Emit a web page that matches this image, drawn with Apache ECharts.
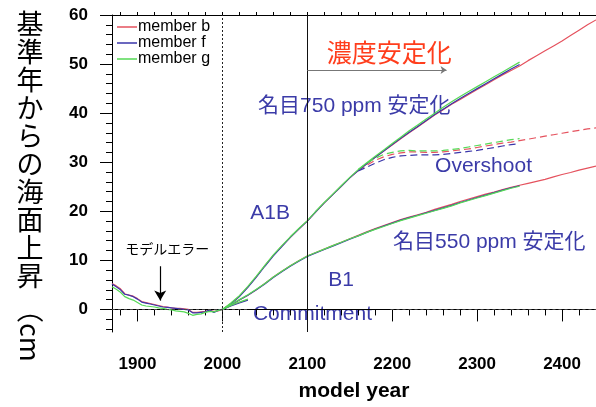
<!DOCTYPE html>
<html><head><meta charset="utf-8">
<script src="https://cdn.jsdelivr.net/npm/echarts@6/dist/echarts.min.js"></script>
<style>html,body{margin:0;padding:0;background:#fff}#c{width:596px;height:407px}</style>
</head><body><div id="c"></div>
<script>
// ---------- data ----------
const histYears = [1870,1875,1880,1885,1890,1895,1900,1905,1910,1915,1920,1925,1930,1935,1940,1945,1950,1955,1960,1965,1970,1975,1980,1985,1990,1995,2000];
const histB = [5.3,4.8,4.2,3.2,2.9,2.7,2.2,1.6,1.4,1.2,1.0,0.8,0.6,0.5,0.3,0.2,0.2,0.1,0.0,-0.6,-0.6,-0.5,-0.4,-0.2,-0.4,-0.3,0.0];
const histF = [5.2,4.6,4.0,3.1,2.9,2.6,2.1,1.5,1.3,1.1,0.9,0.7,0.5,0.4,0.3,0.2,0.1,0.0,-0.1,-0.7,-0.7,-0.6,-0.5,-0.1,-0.6,-0.2,0.0];
const histG = [4.6,4.1,3.5,2.6,2.2,1.9,1.4,0.9,0.7,0.6,0.5,0.3,0.2,0.0,-0.1,-0.3,-0.4,-0.5,-0.8,-1.2,-1.0,-0.9,-0.6,-0.4,-0.5,-0.2,0.0];

const commitYears = [2000,2010,2020,2030];
const commitB = [0.0,0.8,1.4,2.0];
const commitF = [0.0,0.7,1.3,1.9];
const commitG = [0.0,0.8,1.5,2.1];

const futureYears = [2000,2010,2020,2030,2040,2050,2060,2070,2080,2090,2100,2110,2120,2130,2140,2150,2160,2170,2180,2190,2200,2210,2220,2230,2240,2250,2260,2270,2280,2290,2300,2310,2320,2330,2340,2350,2360,2370,2380,2390,2400,2410,2420,2430,2440];
// A1B then 750 ppm stabilisation
const upperB = [0.0,1.2,2.7,4.6,6.7,8.9,11.0,12.9,14.7,16.4,18.0,19.9,21.7,23.4,25.1,26.8,28.3,29.7,31.0,32.3,33.5,34.8,36.0,37.2,38.4,39.6,40.7,41.8,42.8,43.8,44.8,45.8,46.8,47.8,48.7,49.6,50.7,51.7,52.7,53.7,54.7,55.8,56.9,58.0,59.0];
const upperF = [0.0,1.1,2.6,4.5,6.6,8.8,10.9,12.8,14.7,16.4,18.0,19.9,21.7,23.4,25.1,26.8,28.3,29.7,31.0,32.3,33.6,34.9,36.1,37.3,38.5,39.7,40.8,41.9,43.0,44.0,45.0,46.0,47.0,48.0,49.0,49.9];
const upperG = [0.0,1.3,2.8,4.7,6.8,9.0,11.1,13.0,14.8,16.5,18.1,20.0,21.8,23.5,25.2,26.9,28.5,29.9,31.2,32.5,33.8,35.1,36.4,37.6,38.8,40.0,41.2,42.3,43.4,44.4,45.4,46.4,47.4,48.4,49.4,50.4];
// B1 then 550 ppm stabilisation
const lowerB = [0.0,0.9,1.9,2.9,4.0,5.3,6.6,7.8,8.9,9.9,10.9,11.6,12.3,13.0,13.7,14.4,15.1,15.8,16.5,17.1,17.7,18.3,18.8,19.3,19.8,20.4,20.9,21.4,22.0,22.5,23.0,23.5,23.9,24.4,24.9,25.3,25.7,26.1,26.5,27.0,27.5,27.9,28.4,28.8,29.2];
const lowerF = [0.0,0.9,1.9,2.9,4.0,5.2,6.5,7.7,8.8,9.8,10.8,11.5,12.2,12.9,13.6,14.3,15.0,15.7,16.4,17.0,17.6,18.2,18.7,19.2,19.7,20.2,20.7,21.2,21.8,22.3,22.8,23.3,23.8,24.3,24.8,25.2];
const lowerG = [0.0,1.0,2.0,3.0,4.1,5.3,6.6,7.8,8.9,9.9,10.9,11.6,12.3,13.0,13.7,14.4,15.0,15.7,16.3,16.9,17.5,18.1,18.6,19.1,19.6,20.1,20.6,21.1,21.7,22.2,22.7,23.2,23.7,24.2,24.7,25.1];
// overshoot (dashed)
const overYears = [2160,2170,2180,2190,2200,2210,2220,2230,2240,2250,2260,2270,2280,2290,2300,2310,2320,2330,2340,2350,2360,2370,2380,2390,2400,2410,2420,2430,2440];
const overB = [28.3,29.4,30.4,31.1,31.6,31.9,32.1,32.1,32.0,32.0,32.1,32.3,32.5,32.7,33.0,33.3,33.6,33.9,34.1,34.4,34.7,35.0,35.3,35.6,35.9,36.2,36.5,36.8,37.0];
const overF = [28.2,29.0,29.8,30.5,31.0,31.3,31.4,31.5,31.5,31.5,31.6,31.8,32.0,32.2,32.4,32.7,33.0,33.3,33.6,33.8];
const overG = [28.5,29.8,30.8,31.6,32.0,32.3,32.4,32.3,32.3,32.3,32.4,32.6,32.8,33.1,33.4,33.7,34.0,34.3,34.6,34.8];

const xMajorTicks = [1900,2000,2100,2200,2300,2400];
const xMinorTicks = [1880,1920,1940,1960,1980,2020,2040,2060,2080,2120,2140,2160,2180,2220,2240,2260,2280,2320,2340,2360,2380,2420,2440];
const xAllTicks = [1880,1900,1920,1940,1960,1980,2000,2020,2040,2060,2080,2100,2120,2140,2160,2180,2200,2220,2240,2260,2280,2300,2320,2340,2360,2380,2400,2420,2440];
const yMajorTicks = [0,10,20,30,40,50,60];
const yMinorTicks = [-4,-2,2,4,6,8,12,14,16,18,22,24,26,28,32,34,36,38,42,44,46,48,52,54,56,58];

const memberNames = ['member b','member f','member g'];

// ---------- chart ----------
const RED = '#e5525e', BLUE = '#3a36aa', GREEN = '#55d955';
const TXT_BLUE = '#3b3ba8', TXT_RED = '#ff3d1c';
const SANS = '"Liberation Sans", Arial, Helvetica, sans-serif';
const JP = '"Liberation Sans", "Noto Sans CJK JP", sans-serif';

function zip(xs, ys) { return ys.map((v, i) => [xs[i], v]); }

const members = [
  {name: memberNames[0], color: RED,   hist: histB, commit: commitB, upper: upperB, lower: lowerB, over: overB},
  {name: memberNames[1], color: BLUE,  hist: histF, commit: commitF, upper: upperF, lower: lowerF, over: overF},
  {name: memberNames[2], color: GREEN, hist: histG, commit: commitG, upper: upperG, lower: lowerG, over: overG}
];

const series = [];
members.forEach(m => {
  const base = {type: 'line', name: m.name, showSymbol: false, symbol: 'none', color: m.color,
    silent: true, animation: false, lineStyle: {width: 1.2, color: m.color}};
  series.push(Object.assign({}, base, {data: zip(histYears, m.hist)}));
  series.push(Object.assign({}, base, {data: zip(commitYears, m.commit)}));
  series.push(Object.assign({}, base, {data: zip(futureYears, m.upper)}));
  series.push(Object.assign({}, base, {data: zip(futureYears, m.lower)}));
  series.push(Object.assign({}, base, {data: zip(overYears, m.over),
    lineStyle: {width: 1.2, color: m.color, type: [7, 4]}}));
});

// reference lines
series.push({
  type: 'line', name: 'ref', data: [], silent: true, animation: false,
  markLine: {
    silent: true, animation: false, symbol: ['none', 'none'], label: {show: false},
    data: [
      [{coord: [2000, -4.6], lineStyle: {color: '#222', width: 1, type: [2, 2]}}, {coord: [2000, 60]}],
      [{coord: [2100, -4.6], lineStyle: {color: '#111', width: 1, type: 'solid'}}, {coord: [2100, 60]}],
      [{coord: [1870, 0], lineStyle: {color: '#444', width: 1, type: [3, 3]}}, {coord: [2030, 0]}],
      [{coord: [2198, 0], lineStyle: {color: '#444', width: 1, type: [3, 3]}}, {coord: [2440, 0]}],
      [{coord: [2100, 48.8], lineStyle: {color: '#777', width: 1, type: 'solid'}, symbol: 'none'},
       {coord: [2264, 48.8], symbol: 'arrow', symbolSize: 6}],
      [{coord: [1926.8, 8.8], lineStyle: {color: '#000', width: 1.2, type: 'solid'}, symbol: 'none'},
       {coord: [1926.8, 1.8], symbol: 'arrow', symbolSize: [9, 10]}]
    ]
  }
});

const plain = v => String(v);
const axisLineStyle = {show: true, lineStyle: {color: '#000', width: 1}};
const option = {
  animation: false,
  backgroundColor: '#fff',
  grid: {left: 112, right: 0, top: 15, bottom: 74, containLabel: false},
  legend: {
    data: memberNames, orient: 'vertical', left: 117, top: 19, padding: 0,
    icon: 'rect', itemWidth: 20, itemHeight: 1.5, itemGap: 0,
    textStyle: {fontSize: 16, color: '#000', lineHeight: 14, fontFamily: SANS, padding: [0, 0, 0, -4]},
    selectedMode: false
  },
  xAxis: [
    {type: 'value', min: 1870, max: 2440, position: 'bottom', axisLine: axisLineStyle,
     axisTick: {show: true, inside: false, length: 12, customValues: xMajorTicks, lineStyle: {color: '#000'}},
     axisLabel: {customValues: xMajorTicks, formatter: plain, margin: 24, fontSize: 17, fontWeight: 'bold', color: '#000', fontFamily: SANS},
     splitLine: {show: false},
     name: 'model year', nameLocation: 'middle', nameGap: 49,
     nameTextStyle: {fontSize: 21, fontWeight: 'bold', color: '#000', fontFamily: SANS}},
    {type: 'value', min: 1870, max: 2440, position: 'bottom', axisLine: {show: false},
     axisTick: {show: true, length: 6, customValues: xMinorTicks, lineStyle: {color: '#000'}},
     axisLabel: {show: false}, splitLine: {show: false}},
    {type: 'value', min: 1870, max: 2440, position: 'top', axisLine: axisLineStyle,
     axisTick: {show: true, length: 3, customValues: xAllTicks, lineStyle: {color: '#000'}},
     axisLabel: {show: false}, splitLine: {show: false}}
  ],
  yAxis: [
    {type: 'value', min: -4.6, max: 60, position: 'left', axisLine: axisLineStyle,
     axisTick: {show: true, length: 12, customValues: yMajorTicks, lineStyle: {color: '#000'}},
     axisLabel: {customValues: yMajorTicks, formatter: plain, margin: 24, fontSize: 17, fontWeight: 'bold', color: '#000', fontFamily: SANS},
     splitLine: {show: false}},
    {type: 'value', min: -4.6, max: 60, position: 'left', axisLine: {show: false},
     axisTick: {show: true, length: 6, customValues: yMinorTicks, lineStyle: {color: '#000'}},
     axisLabel: {show: false}, splitLine: {show: false}}
  ],
  series: series
};

const chart = echarts.init(document.getElementById('c'), null, {renderer: 'canvas'});
chart.setOption(option);

// annotations anchored in data coordinates
const notes = [
  {text: '濃度安定化',          at: [2123, 51.9], color: TXT_RED,  size: 25, font: JP},
  {text: '名目750 ppm 安定化',  at: [2042, 41.5], color: TXT_BLUE, size: 21, font: JP},
  {text: 'Overshoot',          at: [2250.5, 29.2], color: TXT_BLUE, size: 21, font: SANS},
  {text: 'A1B',                at: [2032.8, 19.6], color: TXT_BLUE, size: 21, font: SANS},
  {text: '名目550 ppm 安定化',  at: [2201, 13.7], color: TXT_BLUE, size: 21, font: JP},
  {text: 'B1',                 at: [2124.6, 6.0], color: TXT_BLUE, size: 21, font: SANS},
  {text: 'Commitment',         at: [2036, -0.9], color: TXT_BLUE, size: 21, font: SANS},
  {text: 'モデルエラー',        at: [1885.7, 12.1], color: '#000', size: 14, font: JP}
];
const graphics = notes.map(n => {
  const p = chart.convertToPixel({xAxisIndex: 0, yAxisIndex: 0}, n.at);
  return {type: 'text', x: p[0], y: p[1], silent: true,
    style: {text: n.text, fill: n.color, fontSize: n.size, fontFamily: n.font, align: 'left', verticalAlign: 'middle'}};
});
// y axis title (vertical writing)
graphics.push({type: 'text', x: 30, y: 10, silent: true,
  style: {text: '基\n準\n年\nか\nら\nの\n海\n面\n上\n昇', fill: '#000', fontSize: 27, lineHeight: 28,
    fontFamily: '"Noto Sans CJK JP", sans-serif', align: 'center', verticalAlign: 'top'}});
graphics.push({type: 'text', x: 30, y: 296, rotation: -Math.PI / 2, silent: true,
  style: {text: '（cm', fill: '#000', fontSize: 27,
    fontFamily: '"Noto Sans CJK JP", sans-serif', align: 'left', verticalAlign: 'middle'}});
chart.setOption({graphic: graphics});
</script>
</body></html>
